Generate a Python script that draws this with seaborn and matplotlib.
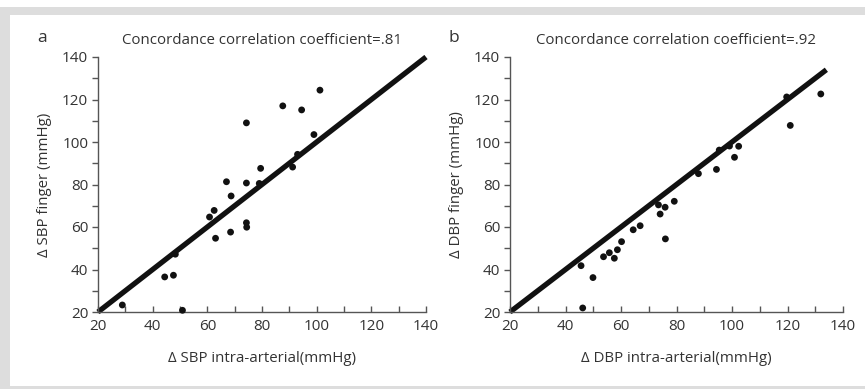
import matplotlib
matplotlib.use("Agg")
import matplotlib.pyplot as plt
import seaborn as sns
import pandas as pd
import numpy as np
from matplotlib.patches import Rectangle
from matplotlib.ticker import MultipleLocator

# ---- data ----
sbp_intra = [28.9, 50.9, 44.4, 47.6, 48.3, 60.8, 62.5, 63.0, 67.0, 68.7, 68.5,
             74.3, 74.3, 74.3, 74.4, 79.5, 79.0, 87.6, 91.2, 93.0, 94.5, 99.0, 101.2]
sbp_finger = [23.3, 20.8, 36.5, 37.3, 47.2, 64.7, 67.8, 54.7, 81.3, 74.6, 57.6,
              109.0, 80.7, 62.0, 59.9, 87.6, 80.5, 117.0, 88.2, 94.2, 115.1, 103.5, 124.4]

dbp_intra = [45.6, 46.2, 49.9, 53.7, 55.8, 57.6, 58.7, 60.2, 64.4, 66.9, 73.5, 74.1,
             75.9, 76.0, 79.2, 87.9, 94.4, 95.4, 99.1, 100.9, 102.4, 119.7, 121.0, 132.0]
dbp_finger = [41.8, 21.9, 36.2, 46.0, 47.9, 45.3, 49.3, 53.1, 58.7, 60.6, 70.4, 66.1,
              69.3, 54.4, 72.1, 85.1, 87.1, 96.2, 98.1, 92.8, 98.0, 121.2, 107.8, 122.6]

line_a = [20, 140]
line_b = [20, 134]

panel_letters = ["a", "b"]
titles = ["Concordance correlation coefficient=.81",
          "Concordance correlation coefficient=.92"]
xlabels = ["\u0394 SBP intra-arterial(mmHg)", "\u0394 DBP intra-arterial(mmHg)"]
ylabels = ["\u0394 SBP finger (mmHg)", "\u0394 DBP finger (mmHg)"]
ticks = [20, 40, 60, 80, 100, 120, 140]

sns.set_style("white")
plt.rcParams["font.family"] = ["Open Sans", "DejaVu Sans"]

TXT = "#333333"
SPINE = "#555555"

fig = plt.figure(figsize=(8.65, 3.89), dpi=100)
W, H = 865, 389
# gray frame
fig.patches.append(Rectangle((0, 1 - 15 / H), 1, 8 / H, transform=fig.transFigure,
                             facecolor="#dddddd", edgecolor="none", zorder=0))
fig.patches.append(Rectangle((0, 0), 10 / W, 1 - 7 / H, transform=fig.transFigure,
                             facecolor="#dddddd", edgecolor="none", zorder=0))
fig.patches.append(Rectangle((0, 0), 1, 3 / H, transform=fig.transFigure,
                             facecolor="#dddddd", edgecolor="none", zorder=0))

axes_px = [(98, 426), (510, 843)]
top_px, bot_px = 57, 312

sets = [(sbp_intra, sbp_finger, line_a), (dbp_intra, dbp_finger, line_b)]
for i, ((l, r), (xs, ys, ln)) in enumerate(zip(axes_px, sets)):
    ax = fig.add_axes([l / W, 1 - bot_px / H, (r - l) / W, (bot_px - top_px) / H])
    ax.set_facecolor("none")
    df = pd.DataFrame({"x": xs, "y": ys})
    dl = pd.DataFrame({"x": ln, "y": ln})
    sns.lineplot(data=dl, x="x", y="y", ax=ax, color="#111111", lw=3.8,
                 solid_capstyle="butt", clip_on=False, zorder=2)
    sns.scatterplot(data=df, x="x", y="y", ax=ax, color="#111111", s=24,
                    edgecolor="none", clip_on=False, zorder=3)
    ax.set_xlim(20, 140)
    ax.set_ylim(20, 140)
    ax.set_xticks(ticks)
    ax.set_yticks(ticks)
    ax.xaxis.set_minor_locator(MultipleLocator(10))
    ax.yaxis.set_minor_locator(MultipleLocator(10))
    for s in ["top", "right"]:
        ax.spines[s].set_visible(False)
    for s in ["left", "bottom"]:
        ax.spines[s].set_color(SPINE)
        ax.spines[s].set_linewidth(1.0)
    ax.tick_params(axis="x", which="both", direction="in", length=4, width=1,
                   color=SPINE, labelsize=11, labelcolor=TXT, pad=5, bottom=True)
    ax.tick_params(axis="y", which="both", direction="out", length=4, width=1,
                   color=SPINE, labelsize=11, labelcolor=TXT, pad=3, left=True)
    ax.set_xlabel(xlabels[i], fontsize=10.8, color=TXT, labelpad=12)
    ax.set_ylabel(ylabels[i], fontsize=10.8, color=TXT, labelpad=7)
    ax.set_title(titles[i], fontsize=10.8, color=TXT, pad=9)
    fig.text((l - 61) / W, 1 - 38 / H, panel_letters[i], fontsize=12.5, color=TXT,
             ha="left", va="center")

fig.savefig("out.png", dpi=100)
